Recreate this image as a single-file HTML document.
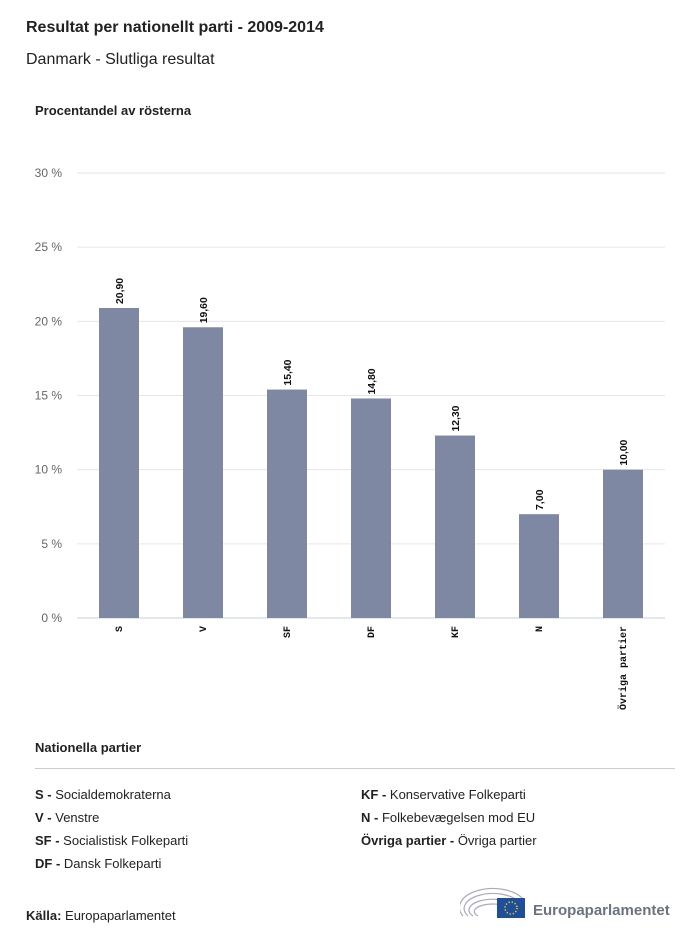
<!DOCTYPE html>
<html><head><meta charset="utf-8"><style>
body{margin:0;width:700px;height:941px;background:#fff;font-family:"Liberation Sans",sans-serif;color:#222;position:relative;overflow:hidden}
.abs{position:absolute}
.leg{font-size:13px;color:#222}
.leg b{font-weight:bold}
</style></head><body>
<div class="abs" style="left:26px;top:19px;font-size:16px;font-weight:bold">Resultat per nationellt parti - 2009-2014</div>
<div class="abs" style="left:26px;top:51px;font-size:16px">Danmark - Slutliga resultat</div>
<div class="abs" style="left:35px;top:103px;font-size:13px;font-weight:bold">Procentandel av rösterna</div>
<svg class="abs" style="left:0;top:0" width="700" height="730">
<g id="grid"></g><g id="bars"></g><g id="labels"></g>
</svg>
<div class="abs" style="left:35px;top:740px;font-size:13px;font-weight:bold">Nationella partier</div>
<div class="abs" style="left:35px;top:768px;width:640px;height:1px;background:#ccc"></div>
<div class="abs leg" style="left:35px;top:787px"><b>S -</b> Socialdemokraterna</div>
<div class="abs leg" style="left:35px;top:810px"><b>V -</b> Venstre</div>
<div class="abs leg" style="left:35px;top:833px"><b>SF -</b> Socialistisk Folkeparti</div>
<div class="abs leg" style="left:35px;top:856px"><b>DF -</b> Dansk Folkeparti</div>
<div class="abs leg" style="left:361px;top:787px"><b>KF -</b> Konservative Folkeparti</div>
<div class="abs leg" style="left:361px;top:810px"><b>N -</b> Folkebevægelsen mod EU</div>
<div class="abs leg" style="left:361px;top:833px"><b>Övriga partier -</b> Övriga partier</div>
<div class="abs leg" style="left:26px;top:908px"><b>Källa:</b> Europaparlamentet</div>
<svg class="abs" style="left:460px;top:882px" width="220" height="40">
<g fill="none" stroke="#aab" stroke-width="1.2">
<path d="M3 34 A30 17 0 0 1 63 17"/><path d="M8 34 A25 13 0 0 1 58 19"/><path d="M13 34 A20 9 0 0 1 53 22"/><path d="M18 34 A15 6 0 0 1 48 25"/></g>
<rect x="37" y="16" width="28" height="20" fill="#1f4f9a"/>
<circle cx="51" cy="26" r="6" fill="none" stroke="#ffd800" stroke-width="1.5" stroke-dasharray="1.2 2"/>
<text x="73" y="33" font-size="15" font-weight="bold" fill="#6b7280" font-family="Liberation Sans, sans-serif">Europaparlamentet</text>
</svg>
<script>
const categories=["S","V","SF","DF","KF","N","Övriga partier"];
const values=[20.9,19.6,15.4,14.8,12.3,7.0,10.0];
const valueLabels=["20,90","19,60","15,40","14,80","12,30","7,00","10,00"];
const yTicks=[0,5,10,15,20,25,30];
const yTickLabels=["0 %","5 %","10 %","15 %","20 %","25 %","30 %"];
const NS="http://www.w3.org/2000/svg";
const x0=77,x1=665,y0=618,yTop=173,yMax=30;
const band=(x1-x0)/categories.length;
const yS=v=>y0-(v/yMax)*(y0-yTop);
const xS=i=>x0+band*(i+0.5);
const grid=document.getElementById('grid'),bars=document.getElementById('bars'),labels=document.getElementById('labels');
function mk(t,a){const e=document.createElementNS(NS,t);for(const k in a)e.setAttribute(k,a[k]);return e;}
yTicks.forEach((t,i)=>{
 const l=mk('line',{x1:x0,x2:x1,y1:yS(t),y2:yS(t),stroke:t===0?'#c5d0e6':'#e6e6e6','stroke-width':1});
 
 
 grid.appendChild(l);
 const tx=mk('text',{x:62,y:yS(t)+4,'text-anchor':'end','font-size':12,fill:'#666'});
 tx.textContent=yTickLabels[i];
 
 
 grid.appendChild(tx);
});
values.forEach((v,i)=>{
 const cx=xS(i);
 const r=mk('rect',{x:cx-20,y:yS(v),width:40,height:y0-yS(v),fill:'#7e88a3'});
 
 
 bars.appendChild(r);
 const vl=mk('text',{transform:`translate(${cx+4},${yS(v)-4}) rotate(-90)`,'font-size':10,'font-weight':'bold',fill:'#111',textLength:valueLabels[i].length*5.2,lengthAdjust:'spacingAndGlyphs'});
 vl.textContent=valueLabels[i];
 
 
 labels.appendChild(vl);
 const cl=mk('text',{transform:`translate(${cx+3},${y0+8}) rotate(-90)`,'text-anchor':'end','font-size':10,'font-weight':'bold','font-family':'Liberation Mono, monospace',fill:'#111'});
 cl.textContent=categories[i];
 
 
 labels.appendChild(cl);
});
</script>
</body></html>
